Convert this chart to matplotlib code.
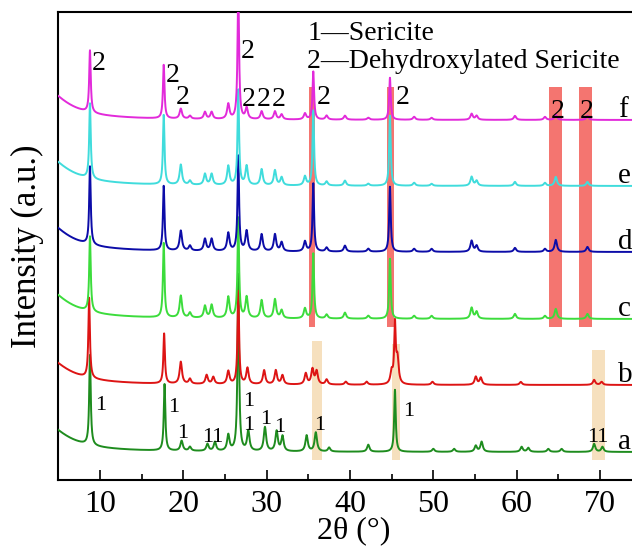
import numpy as np
import matplotlib
matplotlib.use("Agg")
import matplotlib.pyplot as plt

plt.rcParams['font.family'] = ['Liberation Serif', 'DejaVu Serif']
plt.rcParams['mathtext.fontset'] = 'stix'

# ---------------- data ----------------
two_theta = np.arange(5.0, 75.0, 0.02)

curve_names = ['a', 'b', 'c', 'd', 'e', 'f']
curve_colors = ['#1E8C1E', '#DD1414', '#3CDC3C', '#0C0CA8', '#40DCDC', '#E22ADA']
curve_offsets = [28, 95, 161, 228, 294, 360]          # baseline level of each trace
low_angle_rise = [22, 22, 24, 24, 24, 24]             # extra intensity near 5 deg

# sericite (a) peaks: position (deg), height
peaks_a_pos = [8.8, 17.75, 19.8, 20.8, 22.9, 23.8, 25.4, 26.6, 27.8, 29.8, 31.2, 31.9,
               34.8, 35.9, 37.5, 42.2, 45.4, 50.0, 52.5, 55.1, 55.8, 60.6, 61.4, 63.8,
               65.4, 69.3, 70.3]
peaks_a_h = [90, 67, 10, 4, 7, 9, 16, 177, 20, 24, 20, 15,
             16, 19, 4, 7, 62, 3, 3, 6, 10, 5, 4, 3,
             3, 8, 5]

# partly converted (b) peaks
peaks_b_pos = [8.7, 17.7, 19.7, 20.8, 22.8, 23.6, 25.4, 26.6, 27.7, 29.7, 31.1, 31.9,
               34.7, 35.5, 36.0, 37.2, 39.5, 42.0, 45.0, 45.4, 45.7, 49.9, 55.1, 55.7,
               60.5, 69.3, 70.2]
peaks_b_h = [80, 50, 22, 5, 9, 7, 13, 93, 16, 14, 14, 9,
             11, 15, 13, 5, 3, 3, 12, 58, 25, 3, 8, 7,
             3, 5, 3]

# dehydroxylated sericite peaks (c, d, e, f)
peaks_dh_pos = [8.8, 17.65, 19.7, 20.8, 22.6, 23.4, 25.4, 26.6, 27.6, 29.4, 31.0, 31.8,
                34.6, 35.6, 37.2, 39.4, 42.2, 44.8, 47.7, 49.8, 54.6, 55.2, 59.8, 63.4,
                64.7, 68.5]
peaks_c_h = [75, 75, 22, 5, 12, 13, 21, 100, 21, 18, 19, 8,
             10, 65, 4, 6, 3, 60, 3, 3, 11, 7, 5, 3,
             10, 5]
peaks_d_h = [78, 65, 20, 5, 12, 12, 18, 95, 20, 17, 17, 9,
             10, 68, 4, 6, 3, 65, 3, 3, 11, 6, 4, 3,
             12, 5]
peaks_e_h = [75, 70, 20, 4, 11, 11, 19, 95, 19, 16, 15, 8,
             9, 75, 4, 5, 2, 70, 3, 2, 9, 5, 4, 3,
             9, 4]
peaks_f_h = [62, 54, 10, 3, 7, 7, 15, 130, 11, 8, 8, 5,
             6, 48, 4, 4, 2, 42, 3, 2, 6, 4, 4, 3,
             5, 4]

curve_peaks = [
    (peaks_a_pos, peaks_a_h),
    (peaks_b_pos, peaks_b_h),
    (peaks_dh_pos, peaks_c_h),
    (peaks_dh_pos, peaks_d_h),
    (peaks_dh_pos, peaks_e_h),
    (peaks_dh_pos, peaks_f_h),
]

# shaded reference bands (2theta ranges, vertical extent in intensity units)
red_bands = [(35.05, 35.85), (44.4, 45.3), (63.85, 65.5), (67.45, 69.1)]
red_band_y = (153, 393)
beige_bands = [(35.5, 36.65), (45.0, 46.0), (69.05, 70.65)]
beige_band_y = [(20, 139), (20, 136), (20, 130)]

# peak markers
label2_pos = [(9.9, 416), (18.7, 405), (19.9, 383), (27.7, 429), (27.8, 381),
              (29.7, 381), (31.5, 381), (36.9, 383), (46.3, 383), (64.9, 368), (68.4, 368)]
label1_pos = [(10.1, 75, '1'), (18.9, 73, '1'), (19.95, 46, '1'), (23.6, 43, '11'),
              (27.85, 79, '1'), (27.9, 54, '1'), (29.9, 60, '1'), (31.6, 53, '1'),
              (36.4, 55, '1'), (47.0, 68, '1'), (69.8, 42, '11')]

legend_lines = ['1\u2014Sericite', '2\u2014Dehydroxylated Sericite']

xticks = [10, 20, 30, 40, 50, 60, 70]


def trace(x, pos, h, offset, rise):
    y = np.full_like(x, float(offset))
    g = 3.16
    y += rise * g**2 / ((x - 3.0)**2 + g**2) / (g**2 / (4 + g**2))
    for p, hh in zip(pos, h):
        w = 0.11 if hh > 30 else 0.17
        y += hh * w**2 / ((x - p)**2 + w**2)
    return y


# ---------------- figure ----------------
W, H = 632, 550
fig = plt.figure(figsize=(W / 100, H / 100), dpi=100)
ax_left = 58.3 / W
ax_bottom = 1 - 480 / H
ax_height = (480 - 12) / H
xmin, xmax = 5, 76
ax_width = (xmax - xmin) * 8.333 / W
ax = fig.add_axes([ax_left, ax_bottom, ax_width, ax_height])
ax.set_xlim(xmin, xmax)
ax.set_ylim(0, 468)

for (x0, x1) in red_bands:
    ax.fill_between([x0, x1], red_band_y[0], red_band_y[1], color='#F47570', lw=0, zorder=1)
for (x0, x1), (y0, y1) in zip(beige_bands, beige_band_y):
    ax.fill_between([x0, x1], y0, y1, color='#F6E0BE', lw=0, zorder=1)

for name, col, off, rise, (pos, h) in zip(curve_names, curve_colors, curve_offsets,
                                           low_angle_rise, curve_peaks):
    y = trace(two_theta, pos, h, off, rise)
    ax.plot(two_theta, y, color=col, lw=1.4, zorder=3)
    ax.text(72.2, off + 3, name, fontsize=21, ha='left', va='baseline', zorder=4)

for (x, y) in label2_pos:
    ax.text(x, y, '2', fontsize=20, ha='center', va='center', zorder=5)
for (x, y, s) in label1_pos:
    ax.text(x, y, s, fontsize=16, ha='center', va='center', zorder=5)

ax.text(34.9, 446, legend_lines[0], fontsize=20, ha='left', va='center', zorder=5)
ax.text(34.9, 418, legend_lines[1], fontsize=20, ha='left', va='center', zorder=5)

ax.set_xticks(xticks)
ax.set_xticks([15, 25, 35, 45, 55, 65, 75], minor=True)
ax.set_yticks([])
ax.tick_params(axis='x', which='major', direction='in', length=7, width=1.2,
               labelsize=23, pad=7)
ax.tick_params(axis='x', which='minor', direction='in', length=4, width=1.2)
for s in ['left', 'bottom', 'top']:
    ax.spines[s].set_linewidth(1.5)
ax.spines['right'].set_visible(False)

ax.set_xlabel('2\u03b8 (\u00b0)', fontsize=23, labelpad=-2)
ax.set_ylabel('Intensity (a.u.)', fontsize=25, labelpad=10)

fig.savefig('out.png', dpi=100)
